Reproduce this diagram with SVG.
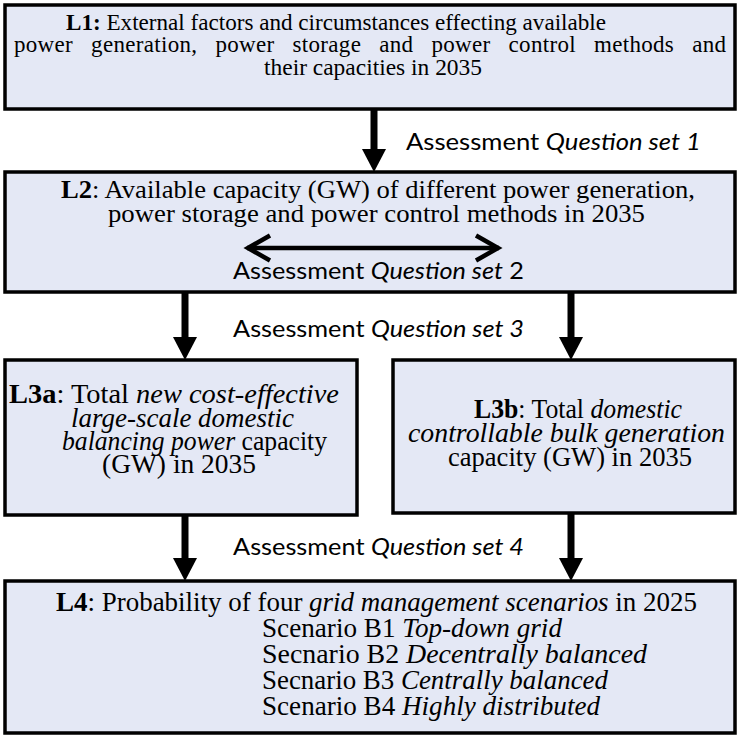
<svg xmlns="http://www.w3.org/2000/svg" width="740" height="738" viewBox="0 0 740 738">
<defs>
<style>
.box{fill:#E4E8F5;stroke:#000;stroke-width:3.5}
.b{font-weight:bold}
.i{font-style:italic}
.shaft{stroke:#000;stroke-width:7;fill:none}
.dbl{stroke:#000;stroke-width:4.5;fill:none}
</style>
<marker id="head" markerUnits="userSpaceOnUse" viewBox="0 0 23 24" markerWidth="23" markerHeight="24" refX="1" refY="12" orient="auto">
<path d="M0,0 L23,12 L0,24 Z" fill="#000"/>
</marker>
<marker id="chev" markerUnits="userSpaceOnUse" viewBox="-28 -17 32 34" markerWidth="32" markerHeight="34" refX="0" refY="0" orient="auto-start-reverse">
<path d="M-23,-12.5 L-1,0 L-23,12.5" fill="none" stroke="#000" stroke-width="4.5"/>
</marker>
</defs>
<rect width="740" height="738" fill="#fff"/>

<g id="L1" font-family="Liberation Serif, Times New Roman, serif" font-size="23" fill="#000">
<rect class="box" x="5" y="5" width="730" height="104"/>
<text x="66" y="30" textLength="540" lengthAdjust="spacingAndGlyphs"><tspan class="b">L1:</tspan> External factors and circumstances effecting available</text>
<text x="14" y="52" textLength="712" lengthAdjust="spacing" word-spacing="12">power generation, power storage and power control methods and</text>
<text x="264" y="75" textLength="218" lengthAdjust="spacingAndGlyphs">their capacities in 2035</text>
</g>

<g id="L2" font-family="Liberation Serif, Times New Roman, serif" font-size="26" fill="#000">
<rect class="box" x="5" y="172" width="730" height="120"/>
<text x="61" y="198" textLength="634" lengthAdjust="spacingAndGlyphs"><tspan class="b">L2</tspan>: Available capacity (GW) of different power generation,</text>
<text x="108" y="222" textLength="537" lengthAdjust="spacingAndGlyphs">power storage and power control methods in 2035</text>
</g>

<g id="L3a" font-family="Liberation Serif, Times New Roman, serif" font-size="26.5" fill="#000">
<rect class="box" x="5" y="360" width="352" height="155"/>
<text x="9" y="403" textLength="330" lengthAdjust="spacingAndGlyphs"><tspan class="b">L3a</tspan>: Total <tspan class="i">new cost-effective</tspan></text>
<text class="i" x="71" y="427" textLength="223" lengthAdjust="spacingAndGlyphs">large-scale domestic</text>
<text x="62" y="450" textLength="265" lengthAdjust="spacingAndGlyphs"><tspan class="i">balancing power</tspan> capacity</text>
<text x="102" y="473" textLength="154" lengthAdjust="spacingAndGlyphs">(GW) in 2035</text>
</g>

<g id="L3b" font-family="Liberation Serif, Times New Roman, serif" font-size="26.5" fill="#000">
<rect class="box" x="393" y="360" width="342" height="153"/>
<text x="474" y="418" textLength="208" lengthAdjust="spacingAndGlyphs"><tspan class="b">L3b</tspan>: Total <tspan class="i">domestic</tspan></text>
<text class="i" x="408" y="442" textLength="317" lengthAdjust="spacingAndGlyphs">controllable bulk generation</text>
<text x="448" y="466" textLength="244" lengthAdjust="spacingAndGlyphs">capacity (GW) in 2035</text>
</g>

<g id="L4" font-family="Liberation Serif, Times New Roman, serif" font-size="26.5" fill="#000">
<rect class="box" x="5" y="581" width="730" height="152"/>
<text x="56" y="611" textLength="641" lengthAdjust="spacingAndGlyphs"><tspan class="b">L4</tspan>: Probability of four <tspan class="i">grid management scenarios</tspan> in 2025</text>
<text x="262" y="637" textLength="300" lengthAdjust="spacingAndGlyphs">Scenario B1 <tspan class="i">Top-down grid</tspan></text>
<text x="262" y="663" textLength="385" lengthAdjust="spacingAndGlyphs">Secnario B2 <tspan class="i">Decentrally balanced</tspan></text>
<text x="262" y="689" textLength="346" lengthAdjust="spacingAndGlyphs">Secnario B3 <tspan class="i">Centrally balanced</tspan></text>
<text x="262" y="715" textLength="338" lengthAdjust="spacingAndGlyphs">Scenario B4 <tspan class="i">Highly distributed</tspan></text>
</g>

<g id="connectors">
<line class="shaft" x1="374" y1="109" x2="374" y2="150" marker-end="url(#head)"/>
<line class="shaft" x1="185" y1="292" x2="185" y2="338" marker-end="url(#head)"/>
<line class="shaft" x1="571" y1="292" x2="571" y2="338" marker-end="url(#head)"/>
<line class="shaft" x1="185" y1="515" x2="185" y2="559" marker-end="url(#head)"/>
<line class="shaft" x1="571" y1="513" x2="571" y2="559" marker-end="url(#head)"/>
<line class="dbl" x1="247" y1="248" x2="499" y2="248" marker-start="url(#chev)" marker-end="url(#chev)"/>
<g font-family="Lato, Open Sans, Liberation Sans, sans-serif" font-size="24" fill="#000">
<text x="406" y="150" textLength="295" lengthAdjust="spacingAndGlyphs">Assessment <tspan class="i">Question set 1</tspan></text>
<text x="233" y="279" textLength="291" lengthAdjust="spacingAndGlyphs">Assessment <tspan class="i">Question set</tspan> 2</text>
<text x="233" y="337" textLength="291" lengthAdjust="spacingAndGlyphs">Assessment <tspan class="i">Question set 3</tspan></text>
<text x="233" y="555" textLength="291" lengthAdjust="spacingAndGlyphs">Assessment <tspan class="i">Question set 4</tspan></text>
</g>
</g>
</svg>
